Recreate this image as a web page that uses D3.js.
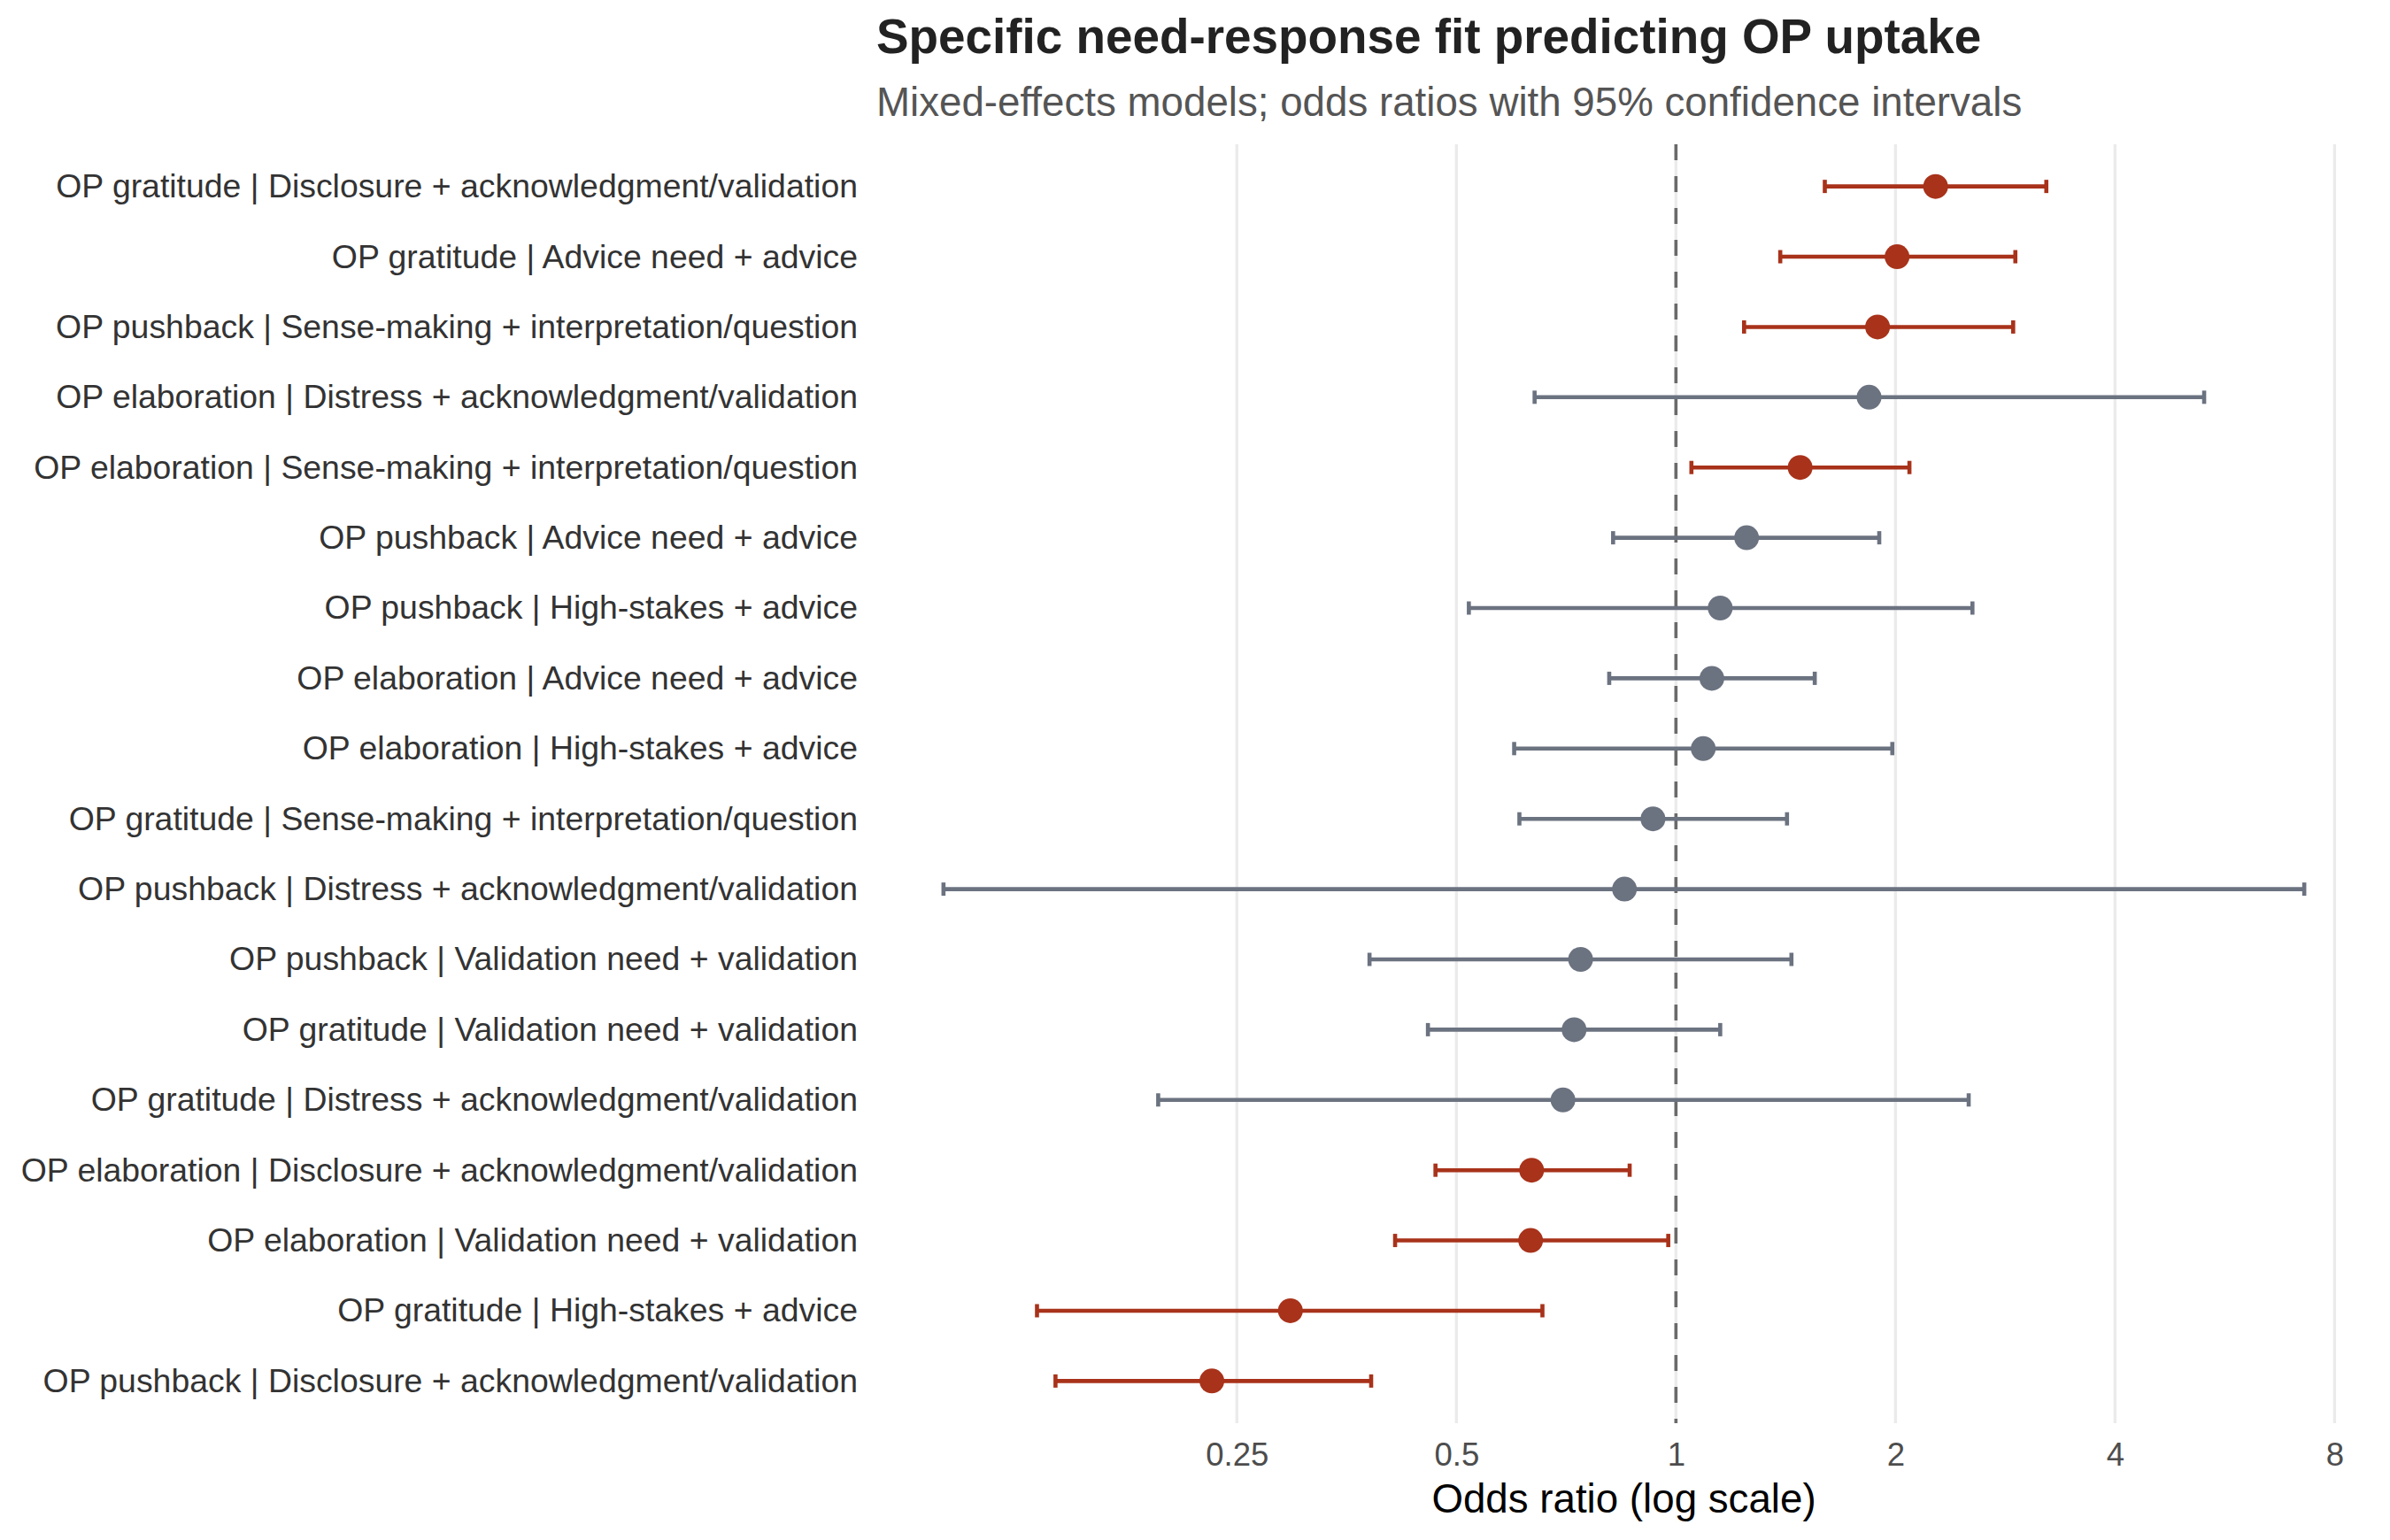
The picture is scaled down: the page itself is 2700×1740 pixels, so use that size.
<!DOCTYPE html>
<html>
<head>
<meta charset="utf-8">
<script src="https://cdn.jsdelivr.net/npm/d3@7"></script>
<style>
  html, body { margin: 0; padding: 0; background: #fff; }
  svg { display: block; font-family: "Liberation Sans", Arial, Helvetica, sans-serif; }
</style>
</head>
<body>
<div id="chart"></div>
<script>
// --- Data (top row first) ---
const labels = [
  "OP gratitude | Disclosure + acknowledgment/validation",
  "OP gratitude | Advice need + advice",
  "OP pushback | Sense-making + interpretation/question",
  "OP elaboration | Distress + acknowledgment/validation",
  "OP elaboration | Sense-making + interpretation/question",
  "OP pushback | Advice need + advice",
  "OP pushback | High-stakes + advice",
  "OP elaboration | Advice need + advice",
  "OP elaboration | High-stakes + advice",
  "OP gratitude | Sense-making + interpretation/question",
  "OP pushback | Distress + acknowledgment/validation",
  "OP pushback | Validation need + validation",
  "OP gratitude | Validation need + validation",
  "OP gratitude | Distress + acknowledgment/validation",
  "OP elaboration | Disclosure + acknowledgment/validation",
  "OP elaboration | Validation need + validation",
  "OP gratitude | High-stakes + advice",
  "OP pushback | Disclosure + acknowledgment/validation"
];
const oddsRatio = [2.27, 2.01, 1.89, 1.84, 1.48, 1.25, 1.15, 1.12, 1.09, 0.93, 0.85, 0.74, 0.725, 0.70, 0.634, 0.632, 0.296, 0.231];
const ciLow     = [1.60, 1.39, 1.24, 0.64, 1.05, 0.82, 0.52, 0.81, 0.60, 0.61, 0.099, 0.38, 0.457, 0.195, 0.468, 0.412, 0.133, 0.141];
const ciHigh    = [3.22, 2.92, 2.90, 5.30, 2.09, 1.90, 2.55, 1.55, 1.98, 1.42, 7.27, 1.44, 1.15, 2.52, 0.864, 0.976, 0.656, 0.382];
const xTicks = [0.25, 0.5, 1, 2, 4, 8];

const rows = labels.map((label, i) => ({
  label, or: oddsRatio[i], lo: ciLow[i], hi: ciHigh[i],
  sig: ciLow[i] > 1 || ciHigh[i] < 1
}));

// --- Dimensions ---
const width = 2700;
const height = 1740;
const margin = { top: 163, right: 20, bottom: 132, left: 989 };
const baseSize = 45.7;

const colSig = "#a8321a";
const colNs = "#6b7280";

const svg = d3.select("#chart").append("svg")
  .attr("width", width)
  .attr("height", height)
  .attr("viewBox", [0, 0, width, height]);

// --- Scales ---
const logLo = Math.log2(d3.min(ciLow));
const logHi = Math.log2(d3.max(ciHigh));
const pad = (logHi - logLo) * 0.05;
const x = d3.scaleLog().base(2)
  .domain([2 ** (logLo - pad), 2 ** (logHi + pad)])
  .range([margin.left, width - margin.right]);

const y = d3.scalePoint()
  .domain(labels)
  .range([margin.top, height - margin.bottom])
  .padding(0.6);

// --- Grid ---
svg.append("g")
  .selectAll("line")
  .data(xTicks)
  .join("line")
  .attr("x1", d => x(d)).attr("x2", d => x(d))
  .attr("y1", margin.top).attr("y2", height - margin.bottom)
  .attr("stroke", "#ebebeb")
  .attr("stroke-width", 3.4);

// Reference line at OR = 1
svg.append("line")
  .attr("x1", x(1)).attr("x2", x(1))
  .attr("y1", margin.top).attr("y2", height - margin.bottom)
  .attr("stroke", "#6a6a6a")
  .attr("stroke-width", 3.6)
  .attr("stroke-dasharray", "18 18");

// --- Axes ---
const xAxis = svg.append("g")
  .attr("transform", `translate(0, ${height - margin.bottom})`)
  .call(d3.axisBottom(x).tickValues(xTicks).tickFormat(d3.format("~g")).tickSize(0).tickPadding(22));
xAxis.select(".domain").remove();
xAxis.selectAll("text")
  .attr("font-size", baseSize * 0.8)
  .attr("fill", "#4d4d4d")
  .attr("font-family", null);

const yAxis = svg.append("g")
  .attr("transform", `translate(${margin.left - 20}, 0)`)
  .call(d3.axisLeft(y).tickSize(0).tickPadding(0));
yAxis.select(".domain").remove();
yAxis.selectAll("text")
  .attr("font-size", 37.4)
  .attr("fill", "#333")
  .attr("font-family", null);

// --- Error bars ---
const capH = 7.5;
const bars = svg.append("g")
  .selectAll("g")
  .data(rows)
  .join("g")
  .attr("stroke", d => d.sig ? colSig : colNs)
  .attr("stroke-width", 4.6);

bars.append("line")
  .attr("x1", d => x(d.lo)).attr("x2", d => x(d.hi))
  .attr("y1", d => y(d.label)).attr("y2", d => y(d.label));
bars.append("line")
  .attr("x1", d => x(d.lo)).attr("x2", d => x(d.lo))
  .attr("y1", d => y(d.label) - capH).attr("y2", d => y(d.label) + capH);
bars.append("line")
  .attr("x1", d => x(d.hi)).attr("x2", d => x(d.hi))
  .attr("y1", d => y(d.label) - capH).attr("y2", d => y(d.label) + capH);

// --- Points ---
svg.append("g")
  .selectAll("circle")
  .data(rows)
  .join("circle")
  .attr("cx", d => x(d.or))
  .attr("cy", d => y(d.label))
  .attr("r", 14)
  .attr("fill", d => d.sig ? colSig : colNs);

// --- Titles ---
svg.append("text")
  .attr("x", margin.left + 1)
  .attr("y", 60)
  .attr("font-size", baseSize * 1.2)
  .attr("font-weight", "bold")
  .attr("fill", "#222")
  .text("Specific need-response fit predicting OP uptake");

svg.append("text")
  .attr("x", margin.left + 1)
  .attr("y", 131)
  .attr("font-size", baseSize)
  .attr("fill", "#555")
  .text("Mixed-effects models; odds ratios with 95% confidence intervals");

svg.append("text")
  .attr("x", (margin.left + width - margin.right) / 2)
  .attr("y", 1709)
  .attr("text-anchor", "middle")
  .attr("font-size", baseSize)
  .attr("fill", "#000")
  .text("Odds ratio (log scale)");
</script>
</body>
</html>
